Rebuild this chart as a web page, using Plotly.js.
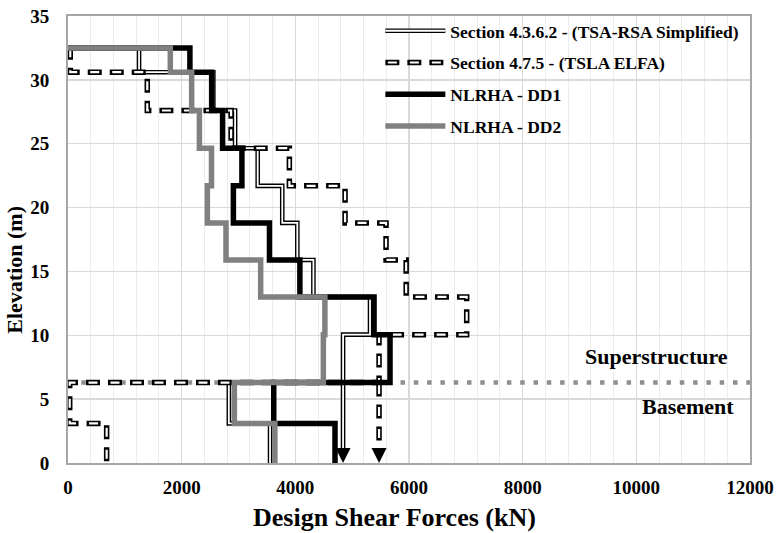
<!DOCTYPE html>
<html>
<head>
<meta charset="utf-8">
<script src="https://cdn.plot.ly/plotly-3.0.1.min.js"></script>
<style>
  html, body { margin: 0; padding: 0; background: #ffffff; }
  #chart { width: 776px; height: 533px; }
</style>
</head>
<body>
<div id="chart"></div>
<script>
// Floor elevations (m): superstructure stories from roof down to ground, then basement levels
const superLevels = [32.5, 30.6, 27.6, 24.65, 21.7, 18.8, 15.9, 13.0, 10.05, 6.3];
const baseLevels = [6.3, 3.1, 0];

// Story design shear forces (kN), one value per story, roof story first
const tsaRsaSuper = [1250, 2557, 2940, 3338, 3770, 4035, 4318, 5314, 4840];
const tsaRsaBase = [2830, 3555];
const tslaElfaSuper = [40, 1395, 2870, 3895, 4875, 5596, 5950, 7015, 5473];
const tslaElfaBase = [30, 680];
const dd1Super = [2145, 2528, 2720, 3060, 2910, 3545, 4080, 5385, 5666];
const dd1Base = [3620, 4698];
const dd2Super = [1800, 2176, 2312, 2525, 2452, 2780, 3390, 4520, 4493];
const dd2Base = [2927, 3640];

// Series names
const seriesNames = [
  'Section 4.3.6.2 - (TSA-RSA Simplified)',
  'Section 4.7.5 - (TSLA ELFA)',
  'NLRHA - DD1',
  'NLRHA - DD2'
];

// Axis ticks
const xTicks = [0, 2000, 4000, 6000, 8000, 10000, 12000];
const yTicks = [0, 5, 10, 15, 20, 25, 30, 35];

// Elevation of the superstructure / basement interface
const interfaceLevel = 6.3;

const serif = 'Liberation Serif, Times New Roman, serif';
const levels = superLevels.concat(baseLevels.slice(1));

// Build a stair-step profile: constant shear over each story
function stepProfile(values, lv, startAtZero) {
  const xs = [], ys = [];
  if (startAtZero) { xs.push(0); ys.push(lv[0]); }
  values.forEach((v, i) => {
    xs.push(v, v);
    ys.push(lv[i], lv[i + 1]);
  });
  return { x: xs, y: ys };
}

const tsaRsa = stepProfile(tsaRsaSuper.concat(tsaRsaBase), levels, true);
const tslaElfa = stepProfile(tslaElfaSuper.concat(tslaElfaBase), levels, true);
const dd1 = stepProfile(dd1Super.concat(dd1Base), levels, true);
const dd2 = stepProfile(dd2Super.concat(dd2Base), levels, true);

// Superstructure base shear carried down into the basement (arrows)
const tsaArrowX = tsaRsaSuper[tsaRsaSuper.length - 1];
const elfaArrowX = tslaElfaSuper[tslaElfaSuper.length - 1];
const stemBottom = 1.1;

const outerDash = '14px,8px';
const innerDash = '0px,2.5px,9px,10.5px';

const traces = [
  // superstructure / basement divider
  {
    x: [0, 12000], y: [interfaceLevel, interfaceLevel],
    mode: 'lines', showlegend: false, hoverinfo: 'skip',
    line: { color: '#8f8f8f', width: 4.5, dash: '4.5px,8.8px' }
  },
  // TSA-RSA: double line (black outline + white core)
  {
    x: tsaRsa.x, y: tsaRsa.y, name: seriesNames[0], mode: 'lines',
    legendgroup: 'g1', legend: 'legend',
    line: { color: '#000000', width: 4.6, simplify: false }
  },
  {
    x: tsaRsa.x, y: tsaRsa.y, name: seriesNames[0], mode: 'lines',
    legendgroup: 'w1', legend: 'legend2', hoverinfo: 'skip',
    line: { color: '#ffffff', width: 1.8, simplify: false }
  },
  // TSLA ELFA: outlined dashes
  {
    x: tslaElfa.x, y: tslaElfa.y, name: seriesNames[1], mode: 'lines',
    legendgroup: 'g2', legend: 'legend',
    line: { color: '#000000', width: 5.5, dash: outerDash, simplify: false }
  },
  {
    x: tslaElfa.x, y: tslaElfa.y, name: seriesNames[1], mode: 'lines',
    legendgroup: 'w2', legend: 'legend2', hoverinfo: 'skip',
    line: { color: '#ffffff', width: 2.2, dash: innerDash, simplify: false }
  },
  // arrow stems below ground level
  {
    x: [tsaArrowX, tsaArrowX], y: [interfaceLevel, stemBottom],
    mode: 'lines', showlegend: false, hoverinfo: 'skip',
    line: { color: '#000000', width: 4.6 }
  },
  {
    x: [tsaArrowX, tsaArrowX], y: [interfaceLevel, stemBottom],
    mode: 'lines', showlegend: false, hoverinfo: 'skip',
    line: { color: '#ffffff', width: 1.8 }
  },
  {
    x: [elfaArrowX, elfaArrowX], y: [interfaceLevel, stemBottom],
    mode: 'lines', showlegend: false, hoverinfo: 'skip',
    line: { color: '#000000', width: 5.5, dash: outerDash }
  },
  {
    x: [elfaArrowX, elfaArrowX], y: [interfaceLevel, stemBottom],
    mode: 'lines', showlegend: false, hoverinfo: 'skip',
    line: { color: '#ffffff', width: 2.2, dash: innerDash }
  },
  // arrow heads, tip on the foundation level
  {
    x: [tsaArrowX, elfaArrowX], y: [0, 0],
    mode: 'markers', showlegend: false, hoverinfo: 'skip', cliponaxis: false,
    marker: { symbol: 'arrow-down', size: 15, color: '#000000', line: { width: 0 } }
  },
  // NLRHA results
  {
    x: dd1.x, y: dd1.y, name: seriesNames[2], mode: 'lines',
    legendgroup: 'g3', legend: 'legend',
    line: { color: '#000000', width: 5.5, simplify: false }
  },
  {
    x: dd2.x, y: dd2.y, name: seriesNames[3], mode: 'lines',
    legendgroup: 'g4', legend: 'legend',
    line: { color: '#808080', width: 5.5, simplify: false }
  }
];

const legendCommon = {
  x: 0.458, y: 1.007, xanchor: 'left', yanchor: 'top',
  bgcolor: 'rgba(0,0,0,0)', borderwidth: 0,
  itemwidth: 60, tracegroupgap: 6, traceorder: 'grouped',
  itemclick: false, itemdoubleclick: false
};

const titleFont = { family: serif, weight: 'bold', color: '#000000' };

const layout = {
  width: 776, height: 533,
  margin: { l: 68, r: 26, t: 16, b: 70 },
  paper_bgcolor: '#ffffff', plot_bgcolor: '#ffffff',
  font: { family: serif, color: '#000000' },
  xaxis: {
    range: [0, 12000], tickvals: xTicks, ticktext: xTicks.map(String),
    showgrid: true, gridcolor: '#d9d9d9', gridwidth: 1.5,
    minor: { dtick: 400, showgrid: true, gridcolor: '#ececec', gridwidth: 1 },
    zeroline: false, showline: true, linecolor: '#a6a6a6', linewidth: 2, mirror: true,
    ticks: 'outside', ticklen: 6, tickcolor: 'rgba(0,0,0,0)',
    tickfont: { family: serif, size: 19, weight: 'bold', color: '#000000' },
    fixedrange: true
  },
  yaxis: {
    range: [0, 35], tickvals: yTicks, ticktext: yTicks.map(String),
    showgrid: true, gridcolor: '#d9d9d9', gridwidth: 1.5,
    zeroline: false, showline: true, linecolor: '#a6a6a6', linewidth: 2, mirror: true,
    ticks: 'outside', ticklen: 13, tickcolor: 'rgba(0,0,0,0)',
    tickfont: { family: serif, size: 19, weight: 'bold', color: '#000000' },
    fixedrange: true
  },
  legend: Object.assign({}, legendCommon, {
    font: { family: serif, size: 17.5, weight: 'bold', color: '#000000' }
  }),
  legend2: Object.assign({}, legendCommon, {
    font: { family: serif, size: 17.5, weight: 'bold', color: 'rgba(0,0,0,0)' }
  }),
  annotations: [
    // axis titles
    { x: 0.479, y: -0.123, xref: 'paper', yref: 'paper', text: 'Design Shear Forces (kN)',
      showarrow: false, xanchor: 'center', yanchor: 'middle',
      font: Object.assign({ size: 26 }, titleFont) },
    { x: -0.078, y: 0.432, xref: 'paper', yref: 'paper', text: 'Elevation (m)',
      showarrow: false, xanchor: 'center', yanchor: 'middle', textangle: -90,
      font: Object.assign({ size: 22 }, titleFont) },
    // region labels
    { x: 0.863, y: interfaceLevel + 2.05, xref: 'paper', yref: 'y', text: 'Superstructure',
      showarrow: false, xanchor: 'center', yanchor: 'middle',
      font: Object.assign({ size: 22 }, titleFont) },
    { x: 0.909, y: interfaceLevel - 1.85, xref: 'paper', yref: 'y', text: 'Basement',
      showarrow: false, xanchor: 'center', yanchor: 'middle',
      font: Object.assign({ size: 22 }, titleFont) }
  ],
  showlegend: true
};

Plotly.newPlot('chart', traces, layout, { displayModeBar: false, staticPlot: true });
</script>
</body>
</html>
